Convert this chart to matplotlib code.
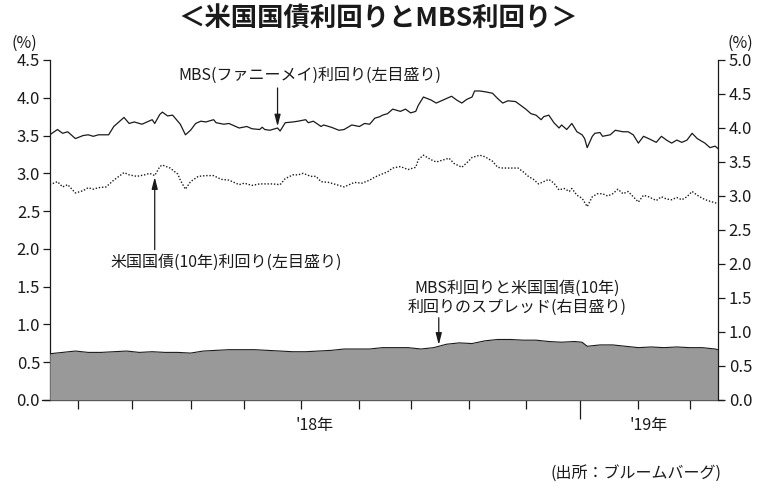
import matplotlib
matplotlib.use("Agg")
import matplotlib.pyplot as plt
import pandas as pd
import numpy as np
from matplotlib.ticker import FixedLocator, FormatStrFormatter

plt.rcParams['font.family'] = ['Noto Sans CJK JP', 'DejaVu Sans']

# ---------------- data ----------------
mbs_dates = [
    "2018-03-16", "2018-03-21", "2018-03-23", "2018-03-27", "2018-03-30", "2018-04-04", "2018-04-06",
    "2018-04-10", "2018-04-12", "2018-04-18", "2018-04-20", "2018-04-26", "2018-04-30", "2018-05-02",
    "2018-05-07", "2018-05-11", "2018-05-14", "2018-05-16", "2018-05-17", "2018-05-21", "2018-05-23",
    "2018-05-25", "2018-05-28", "2018-05-30", "2018-06-01", "2018-06-05", "2018-06-07", "2018-06-11",
    "2018-06-14", "2018-06-15", "2018-06-20", "2018-06-22", "2018-06-26", "2018-06-28", "2018-07-03",
    "2018-07-05", "2018-07-10", "2018-07-11", "2018-07-12", "2018-07-16", "2018-07-19", "2018-07-20",
    "2018-07-24", "2018-07-27", "2018-07-31", "2018-08-03", "2018-08-06", "2018-08-08", "2018-08-13",
    "2018-08-14", "2018-08-17", "2018-08-22", "2018-08-24", "2018-08-29", "2018-09-03", "2018-09-05",
    "2018-09-07", "2018-09-11", "2018-09-13", "2018-09-14", "2018-09-18", "2018-09-20", "2018-09-25",
    "2018-09-27", "2018-10-01", "2018-10-03", "2018-10-04", "2018-10-08", "2018-10-11", "2018-10-15",
    "2018-10-17", "2018-10-19", "2018-10-23", "2018-10-25", "2018-10-29", "2018-10-31", "2018-11-02",
    "2018-11-05", "2018-11-07", "2018-11-09", "2018-11-14", "2018-11-16", "2018-11-20", "2018-11-22",
    "2018-11-27", "2018-11-29", "2018-12-03", "2018-12-05", "2018-12-07", "2018-12-11", "2018-12-12",
    "2018-12-14", "2018-12-18", "2018-12-20", "2018-12-21", "2018-12-25", "2018-12-27", "2018-12-31",
    "2019-01-02", "2019-01-03", "2019-01-04", "2019-01-08", "2019-01-09", "2019-01-11", "2019-01-14",
    "2019-01-17", "2019-01-21", "2019-01-24", "2019-01-28", "2019-01-30", "2019-02-01", "2019-02-05",
    "2019-02-07", "2019-02-12", "2019-02-14", "2019-02-18", "2019-02-20", "2019-02-22", "2019-02-26",
    "2019-02-28", "2019-03-04", "2019-03-06", "2019-03-11", "2019-03-13", "2019-03-15", "2019-03-18",
]
mbs_values = [
    3.51, 3.58, 3.53, 3.55, 3.46, 3.50, 3.51,
    3.49, 3.51, 3.51, 3.62, 3.74, 3.66, 3.68,
    3.65, 3.71, 3.66, 3.78, 3.81, 3.76, 3.77,
    3.69, 3.65, 3.51, 3.57, 3.66, 3.69, 3.68,
    3.71, 3.67, 3.65, 3.66, 3.63, 3.60, 3.62,
    3.59, 3.58, 3.61, 3.58, 3.57, 3.60, 3.56,
    3.67, 3.68, 3.69, 3.71, 3.67, 3.69, 3.62,
    3.64, 3.61, 3.57, 3.58, 3.64, 3.62, 3.66,
    3.65, 3.73, 3.75, 3.77, 3.79, 3.85, 3.82,
    3.85, 3.80, 3.82, 3.90, 4.01, 3.97, 3.93,
    3.96, 3.99, 4.02, 3.97, 3.93, 3.98, 4.01,
    4.09, 4.09, 4.08, 4.06, 3.99, 3.93, 3.96,
    3.95, 3.90, 3.85, 3.79, 3.77, 3.71, 3.75,
    3.77, 3.67, 3.60, 3.64, 3.58, 3.66, 3.55,
    3.51, 3.46, 3.34, 3.49, 3.53, 3.54, 3.49,
    3.51, 3.57, 3.55, 3.55, 3.51, 3.40, 3.49,
    3.46, 3.41, 3.49, 3.44, 3.40, 3.44, 3.41,
    3.44, 3.53, 3.46, 3.40, 3.34, 3.36, 3.33,
]

ust_dates = [
    "2018-03-16", "2018-03-21", "2018-03-23", "2018-03-27", "2018-03-30", "2018-04-04", "2018-04-06",
    "2018-04-10", "2018-04-12", "2018-04-17", "2018-04-20", "2018-04-26", "2018-04-30", "2018-05-03",
    "2018-05-08", "2018-05-10", "2018-05-14", "2018-05-16", "2018-05-17", "2018-05-22", "2018-05-25",
    "2018-05-28", "2018-05-30", "2018-06-01", "2018-06-06", "2018-06-11", "2018-06-14", "2018-06-19",
    "2018-06-22", "2018-06-28", "2018-07-02", "2018-07-05", "2018-07-10", "2018-07-12", "2018-07-17",
    "2018-07-20", "2018-07-24", "2018-07-27", "2018-07-31", "2018-08-02", "2018-08-07", "2018-08-09",
    "2018-08-13", "2018-08-16", "2018-08-21", "2018-08-24", "2018-08-30", "2018-09-04", "2018-09-07",
    "2018-09-11", "2018-09-13", "2018-09-18", "2018-09-20", "2018-09-25", "2018-09-28", "2018-10-03",
    "2018-10-04", "2018-10-08", "2018-10-11", "2018-10-15", "2018-10-18", "2018-10-22", "2018-10-24",
    "2018-10-29", "2018-10-31", "2018-11-02", "2018-11-07", "2018-11-09", "2018-11-14", "2018-11-16",
    "2018-11-20", "2018-11-23", "2018-11-28", "2018-11-30", "2018-12-04", "2018-12-06", "2018-12-10",
    "2018-12-12", "2018-12-14", "2018-12-18", "2018-12-20", "2018-12-24", "2018-12-26", "2018-12-27",
    "2018-12-31", "2019-01-02", "2019-01-04", "2019-01-08", "2019-01-10", "2019-01-14", "2019-01-16",
    "2019-01-18", "2019-01-22", "2019-01-24", "2019-01-28", "2019-01-30", "2019-02-01", "2019-02-05",
    "2019-02-07", "2019-02-12", "2019-02-14", "2019-02-18", "2019-02-20", "2019-02-22", "2019-02-26",
    "2019-02-28", "2019-03-04", "2019-03-06", "2019-03-08", "2019-03-12", "2019-03-14", "2019-03-18",
]
ust_values = [
    2.85, 2.89, 2.82, 2.85, 2.74, 2.77, 2.81,
    2.79, 2.81, 2.82, 2.91, 3.01, 2.98, 2.96,
    2.98, 3.00, 2.97, 3.09, 3.11, 3.07, 2.99,
    2.91, 2.79, 2.89, 2.96, 2.97, 2.97, 2.92,
    2.91, 2.85, 2.87, 2.84, 2.86, 2.86, 2.86,
    2.85, 2.93, 2.98, 2.98, 3.00, 2.96, 2.96,
    2.89, 2.88, 2.85, 2.82, 2.88, 2.87, 2.91,
    2.95, 2.98, 3.02, 3.07, 3.09, 3.05, 3.08,
    3.18, 3.24, 3.18, 3.15, 3.18, 3.20, 3.13,
    3.08, 3.14, 3.21, 3.24, 3.22, 3.16, 3.08,
    3.07, 3.07, 3.07, 3.02, 2.96, 2.92, 2.86,
    2.89, 2.92, 2.87, 2.78, 2.80, 2.76, 2.80,
    2.71, 2.67, 2.56, 2.69, 2.73, 2.73, 2.70,
    2.73, 2.79, 2.73, 2.76, 2.69, 2.62, 2.71,
    2.69, 2.64, 2.69, 2.66, 2.65, 2.68, 2.65,
    2.69, 2.76, 2.71, 2.67, 2.64, 2.62, 2.60,
]

spread_dates = [
    "2018-03-16", "2018-03-23", "2018-03-30", "2018-04-06", "2018-04-13", "2018-04-20", "2018-04-27",
    "2018-05-04", "2018-05-11", "2018-05-18", "2018-05-25", "2018-06-01", "2018-06-08", "2018-06-15",
    "2018-06-22", "2018-06-29", "2018-07-06", "2018-07-13", "2018-07-20", "2018-07-27", "2018-08-03",
    "2018-08-10", "2018-08-17", "2018-08-24", "2018-08-31", "2018-09-07", "2018-09-14", "2018-09-21",
    "2018-09-28", "2018-10-05", "2018-10-12", "2018-10-19", "2018-10-26", "2018-11-02", "2018-11-09",
    "2018-11-16", "2018-11-23", "2018-11-30", "2018-12-07", "2018-12-14", "2018-12-21", "2018-12-28",
    "2019-01-02", "2019-01-04", "2019-01-11", "2019-01-18", "2019-01-25", "2019-02-01", "2019-02-08",
    "2019-02-15", "2019-02-22", "2019-03-01", "2019-03-08", "2019-03-15", "2019-03-18",
]
spread_values = [
    0.68, 0.70, 0.72, 0.70, 0.70, 0.71, 0.72,
    0.70, 0.71, 0.70, 0.70, 0.69, 0.72, 0.73,
    0.74, 0.74, 0.74, 0.73, 0.72, 0.71, 0.71,
    0.72, 0.73, 0.75, 0.75, 0.75, 0.77, 0.77,
    0.77, 0.75, 0.77, 0.82, 0.84, 0.83, 0.87,
    0.89, 0.89, 0.88, 0.88, 0.86, 0.85, 0.86,
    0.85, 0.79, 0.81, 0.81, 0.79, 0.77, 0.78,
    0.77, 0.78, 0.77, 0.77, 0.75, 0.74,
]

start_date, end_date = "2018-03-16", "2019-03-18"
left_ticks = [0.0, 0.5, 1.0, 1.5, 2.0, 2.5, 3.0, 3.5, 4.0, 4.5]
right_ticks = [0.0, 0.5, 1.0, 1.5, 2.0, 2.5, 3.0, 3.5, 4.0, 4.5, 5.0]
year_labels = ["'18年", "'19年"]

# ---------------- weekday scale ----------------
bdays = pd.bdate_range(start_date, end_date)

def widx(dates):
    return bdays.get_indexer(pd.to_datetime(dates)).astype(float)

x_mbs = widx(mbs_dates)
x_ust = widx(ust_dates)
x_spr = widx(spread_dates)

month_change = np.where(bdays.month[1:] != bdays.month[:-1])[0] + 1
year_change = [i for i in month_change if bdays[i].month == 1]

# ---------------- figure ----------------
W, H = 757, 488
fig = plt.figure(figsize=(W / 100, H / 100), dpi=100)
L, R, B, T = 49.8, 717.7, 400, 60
ax = fig.add_axes([L / W, 1 - B / H, (R - L) / W, (B - T) / H])
ax2 = ax.twinx()

xmin, xmax = 0, len(bdays) - 1
ax.set_xlim(xmin, xmax)
ax.set_ylim(0, 4.5)
ax2.set_ylim(0, 5.0)

dark = '#1a1a1a'
ax2.fill_between(x_spr, 0, spread_values, color='#999999', lw=0, zorder=1)
ax2.plot(x_spr, spread_values, color=dark, lw=0.8, zorder=2)
ax.plot(x_mbs, mbs_values, color=dark, lw=0.9, zorder=3)
ax.plot(x_ust, ust_values, color=dark, lw=1.0, linestyle=(0, (1.0, 1.3)), zorder=3)

# spines
for a in (ax, ax2):
    a.spines['top'].set_visible(False)
ax2.spines['bottom'].set_visible(False)
ax2.spines['left'].set_visible(False)
ax.spines['right'].set_visible(False)
for sp in ('left', 'bottom'):
    ax.spines[sp].set_linewidth(0.9)
    ax.spines[sp].set_color(dark)
ax2.spines['right'].set_linewidth(0.9)
ax2.spines['right'].set_color(dark)
ax.spines['bottom'].set_bounds(xmin - 3, xmax + 2)

# y ticks
ax.yaxis.set_major_locator(FixedLocator(left_ticks))
ax.yaxis.set_major_formatter(FormatStrFormatter('%.1f'))
ax2.yaxis.set_major_locator(FixedLocator(right_ticks))
ax2.yaxis.set_major_formatter(FormatStrFormatter('%.1f'))
ax.tick_params(axis='y', direction='out', length=5, width=0.9, pad=2, labelsize=12, color=dark, labelcolor=dark)
ax2.tick_params(axis='y', direction='out', length=5, width=0.9, pad=3, labelsize=12, color=dark, labelcolor=dark)

# x ticks: month starts (weekday positions), long tick at year change
ax.xaxis.set_major_locator(FixedLocator([i for i in month_change if i not in year_change]))
ax.xaxis.set_minor_locator(FixedLocator(year_change))
ax.tick_params(axis='x', which='major', direction='out', length=6.5, width=0.9, color=dark, labelbottom=False)
ax.tick_params(axis='x', which='minor', direction='out', length=14, width=0.9, color=dark, labelbottom=False)

# year labels centred on each year's visible span
bounds = [xmin] + list(year_change) + [xmax]
for lab, a0, a1 in zip(year_labels, bounds[:-1], bounds[1:]):
    ax.text((a0 + a1) / 2, -0.075, lab, transform=ax.get_xaxis_transform(),
            ha='center', va='center', fontsize=11.5, color=dark)

# title and unit labels
fig.text(378 / W, 1 - 19 / H, '＜米国国債利回りとMBS利回り＞', ha='center', va='center',
         fontsize=19, fontweight='bold', color=dark)
fig.text(24 / W, 1 - 43 / H, '(%)', ha='center', va='center', fontsize=11.5, color=dark)
fig.text(740 / W, 1 - 43 / H, '(%)', ha='center', va='center', fontsize=11.5, color=dark)
fig.text(722 / W, 1 - 473 / H, '(出所：ブルームバーグ)', ha='right', va='center', fontsize=11.5, color=dark)

# annotations
arrow = dict(arrowstyle='-|>,head_length=0.7,head_width=0.18', color=dark, lw=0.9,
             shrinkA=0, shrinkB=0, mutation_scale=10)
ax.text((310 - L) / (R - L), (B - 75) / (B - T), 'MBS(ファニーメイ)利回り(左目盛り)',
        transform=ax.transAxes, ha='center', va='center', fontsize=11.5, color=dark)
ax.annotate('', xy=(89, 3.62), xytext=(89, 4.13), arrowprops=arrow)

ax.text((226 - L) / (R - L), (B - 262) / (B - T), '米国国債(10年)利回り(左目盛り)',
        transform=ax.transAxes, ha='center', va='center', fontsize=11.5, color=dark)
ax.annotate('', xy=(41, 2.95), xytext=(41, 1.99), arrowprops=arrow)

ax.text((517 - L) / (R - L), (B - 298) / (B - T), 'MBS利回りと米国国債(10年)\n利回りのスプレッド(右目盛り)',
        transform=ax.transAxes, ha='center', va='center', fontsize=11.5, color=dark,
        multialignment='center', linespacing=1.15)
ax2.annotate('', xy=(152, 0.81), xytext=(152, 1.21), arrowprops=arrow)

fig.savefig('out.png', dpi=100)
